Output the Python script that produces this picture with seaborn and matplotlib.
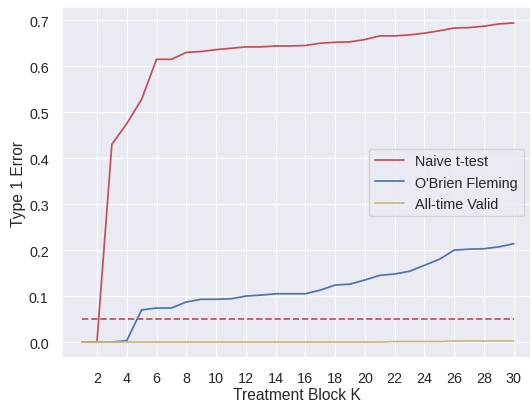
import matplotlib
matplotlib.use("Agg")
import matplotlib.pyplot as plt
import seaborn as sns
import numpy as np

sns.set_theme(style="darkgrid", color_codes=True)
s = 0.83
f = 0.94
plt.rcParams.update({
    "font.family": ["Liberation Sans", "Arial", "DejaVu Sans"],
    "xtick.labelsize": 11 * f,
    "ytick.labelsize": 11 * f,
    "axes.labelsize": 12 * f,
    "legend.fontsize": 11 * f,
    "lines.linewidth": 1.5 * s,
    "grid.linewidth": 1.0 * s,
})

K = list(range(1, 31))
naive = [0.0, 0.0, 0.43, 0.475, 0.528, 0.615, 0.615, 0.63, 0.632, 0.636,
         0.639, 0.642, 0.642, 0.644, 0.644, 0.645, 0.65, 0.652, 0.653, 0.658,
         0.666, 0.666, 0.668, 0.672, 0.677, 0.683, 0.684, 0.687, 0.692, 0.694]
obf = [0.0, 0.0, 0.0, 0.003, 0.07, 0.074, 0.074, 0.087, 0.093, 0.093,
       0.094, 0.1, 0.102, 0.105, 0.105, 0.105, 0.113, 0.124, 0.126, 0.135,
       0.145, 0.148, 0.154, 0.167, 0.18, 0.2, 0.202, 0.203, 0.207, 0.214]
atv = [0.0] * 20 + [0.0, 0.001, 0.001, 0.001, 0.001, 0.002, 0.002, 0.002, 0.002, 0.002]
alpha = [0.05] * 30
xticks = list(range(2, 31, 2))

fig, ax = plt.subplots(figsize=(5.32, 4.02), dpi=100)
fig.subplots_adjust(left=0.1165, right=0.998, top=0.980, bottom=0.107)
sns.lineplot(x=K, y=naive, color="r", label="Naive t-test", ax=ax)
sns.lineplot(x=K, y=obf, color="b", label="O'Brien Fleming", ax=ax)
sns.lineplot(x=K, y=atv, color="y", label="All-time Valid", ax=ax)
ax.plot(K, alpha, color="r", linestyle="--", linewidth=1.5 * s)
ax.set_xticks(xticks)
ax.set_xlim(-0.35, 31.15)
ax.set_xlabel("Treatment Block K", labelpad=1)
ax.set_ylabel("Type 1 Error", labelpad=2)
ax.legend(loc="center right")
fig.savefig("out.png", dpi=100)
